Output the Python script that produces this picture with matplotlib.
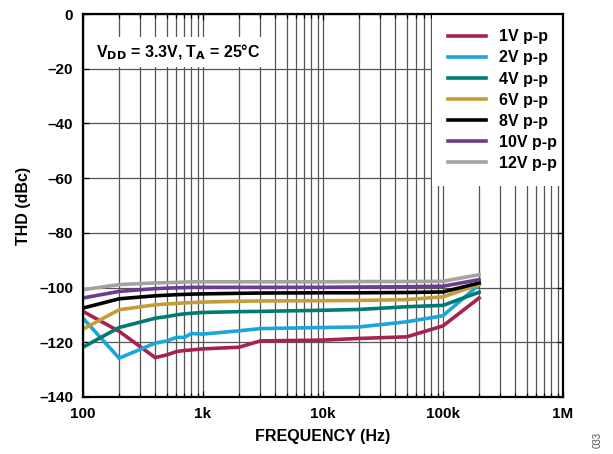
import matplotlib
matplotlib.use("Agg")
import matplotlib.pyplot as plt
from matplotlib.ticker import FixedLocator, NullFormatter, LogLocator

plt.rcParams['font.family'] = ['Liberation Sans', 'DejaVu Sans']
plt.rcParams['font.weight'] = 'bold'

freq = [100, 200, 400, 500, 600, 700, 800, 1000, 2000, 3000, 10000, 20000, 50000, 100000, 200000]

thd_1v = [-108.7, -116.0, -125.6, -124.6, -123.4, -123.0, -122.8, -122.4, -121.8, -119.5, -119.2, -118.6, -118.0, -114.0, -103.8]
thd_2v = [-111.2, -125.8, -120.3, -119.5, -118.2, -118.2, -116.8, -117.0, -115.8, -115.0, -114.6, -114.4, -112.5, -110.3, -98.9]
thd_4v = [-121.8, -114.6, -111.2, -110.6, -110.0, -109.6, -109.4, -109.1, -108.8, -108.7, -108.3, -108.0, -107.0, -106.5, -101.7]
thd_6v = [-115.2, -108.1, -106.3, -106.0, -105.8, -105.6, -105.5, -105.3, -105.0, -104.9, -104.8, -104.7, -104.4, -103.4, -98.9]
thd_8v = [-107.5, -104.1, -103.0, -102.8, -102.6, -102.5, -102.4, -102.3, -102.1, -102.0, -101.9, -101.9, -101.8, -101.6, -98.3]
thd_10v = [-103.8, -101.4, -100.4, -100.2, -100.1, -100.0, -99.9, -99.9, -99.9, -99.9, -99.9, -99.8, -99.7, -99.5, -97.1]
thd_12v = [-100.8, -98.9, -98.3, -98.2, -98.1, -98.0, -97.9, -97.9, -97.9, -97.9, -97.9, -97.8, -97.8, -97.7, -95.3]

labels = ['1V p-p', '2V p-p', '4V p-p', '6V p-p', '8V p-p', '10V p-p', '12V p-p']
colors = ['#A8224F', '#1AA6DB', '#007B72', '#C69C3A', '#000000', '#6F3B8E', '#A3A3A3']
series = [thd_1v, thd_2v, thd_4v, thd_6v, thd_8v, thd_10v, thd_12v]

xticks = [100, 1000, 10000, 100000, 1000000]
xticklabels = ['100', '1k', '10k', '100k', '1M']
yticks = [0, -20, -40, -60, -80, -100, -120, -140]
yticklabels = ['0', '–20', '–40', '–60', '–80', '–100', '–120', '–140']

fig = plt.figure(figsize=(6.13, 4.54), dpi=100)
ax = fig.add_axes([83/613, 1-397/454, (563-83)/613, (397-14)/454])

for y, c, l in zip(series, colors, labels):
    ax.plot(freq, y, color=c, lw=2.6, label=l, solid_joinstyle='miter', zorder=3)

ax.set_xscale('log')
ax.set_xlim(100, 1e6)
ax.set_ylim(-140, 0)
ax.xaxis.set_major_locator(FixedLocator(xticks))
ax.set_xticklabels(xticklabels)
ax.xaxis.set_minor_locator(LogLocator(base=10, subs=range(2, 10)))
ax.xaxis.set_minor_formatter(NullFormatter())
ax.set_yticks(yticks)
ax.set_yticklabels(yticklabels)

ax.grid(True, which='both', axis='x', color='#555555', lw=0.9, zorder=1)
ax.grid(True, which='major', axis='y', color='#555555', lw=0.9, zorder=1)
ax.tick_params(which='both', direction='in', top=True, right=True, labelsize=11, length=4, width=0.9, pad=7)
ax.tick_params(which='minor', length=3)
for lbl in ax.get_xticklabels() + ax.get_yticklabels():
    lbl.set_fontweight('bold')
for sp in ax.spines.values():
    sp.set_linewidth(1.6)
    sp.set_zorder(5)

ax.set_xlabel('FREQUENCY (Hz)', fontsize=11.5, fontweight='bold', labelpad=6)
ax.set_ylabel('THD (dBc)', fontsize=11.5, fontweight='bold', labelpad=6)

ax.text(0.028, 0.901, r'V$_{\mathbf{DD}}$ = 3.3V, T$_{\mathbf{A}}$ = 25°C', transform=ax.transAxes,
        fontsize=11.5, fontweight='bold', va='center', ha='left', zorder=4,
        bbox=dict(facecolor='white', edgecolor='none', pad=4))

leg = ax.legend(loc='upper right', bbox_to_anchor=(1.0183, 0.9995), frameon=True, fontsize=11.5,
                handlelength=2.4, borderaxespad=0.0, labelspacing=0.38, handletextpad=0.8,
                borderpad=0.95)
leg.get_frame().set_edgecolor('none')
leg.get_frame().set_facecolor('white')
leg.get_frame().set_alpha(1)
leg.get_frame().set_boxstyle('square', pad=0)
leg.set_zorder(4)
for t in leg.get_texts():
    t.set_fontweight('bold')
for h in leg.get_lines():
    h.set_linewidth(2.6)

fig.text(598/613, 1-440/454, '033', rotation=90, fontsize=7, color='#555555', va='center', ha='center', fontweight='normal')

fig.savefig('out.png', dpi=100)
